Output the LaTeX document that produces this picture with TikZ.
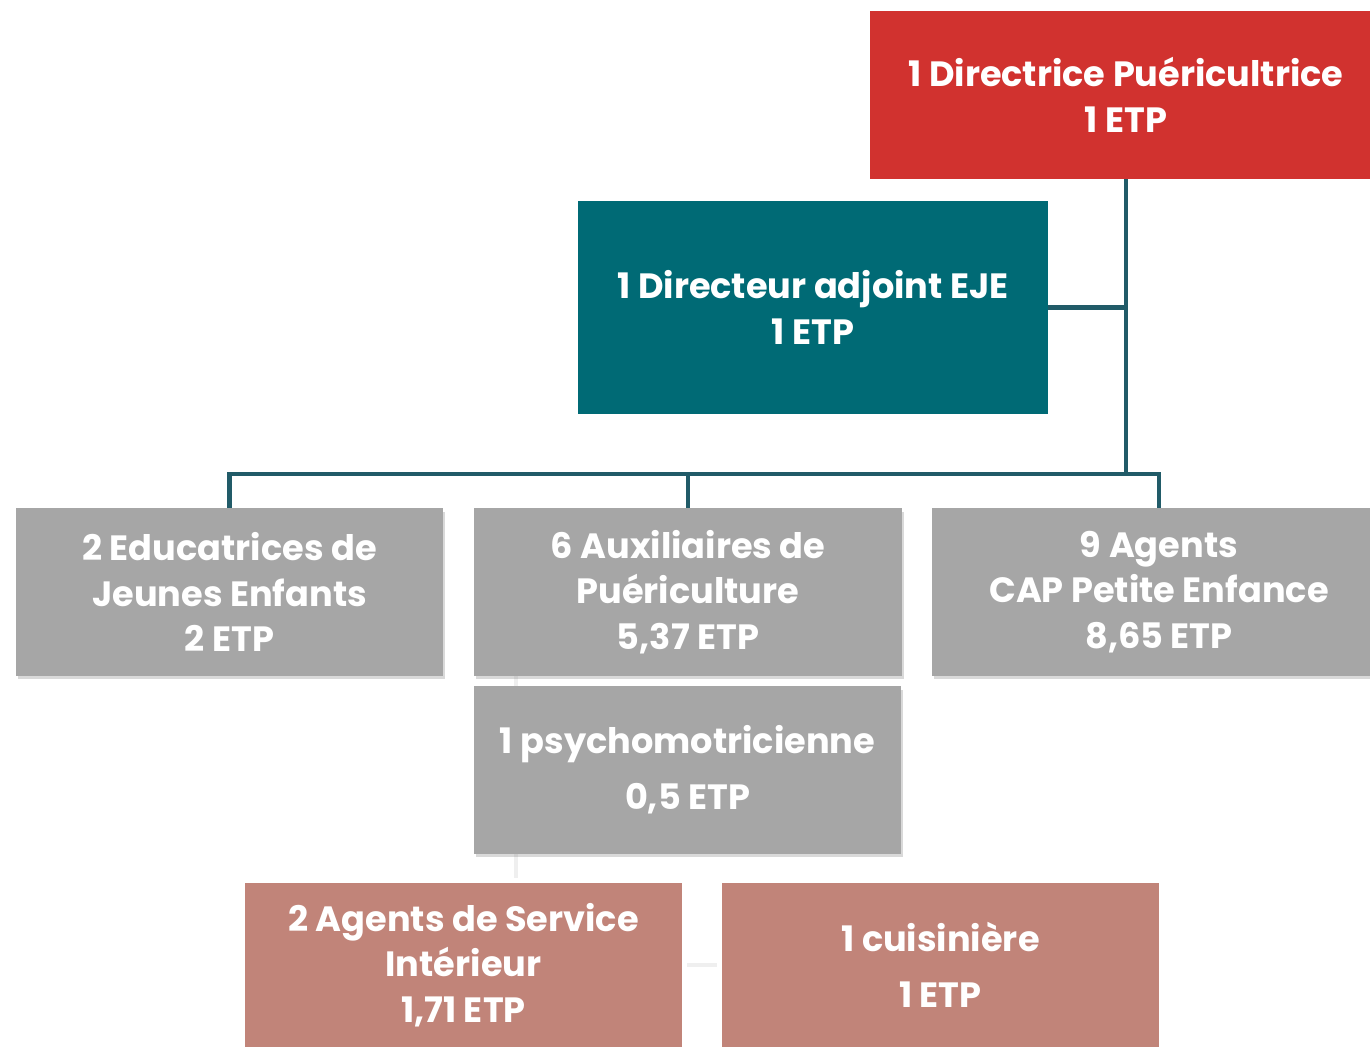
\documentclass[tikz,border=0pt]{standalone}
\usepackage{fontspec}
\setmainfont{Poppins}
\usepackage{tikz}
\usetikzlibrary{shadows}

\definecolor{dirred}{HTML}{D1322F}
\definecolor{adjteal}{HTML}{006A75}
\definecolor{linkteal}{HTML}{215B68}
\definecolor{staffgrey}{HTML}{A6A6A6}
\definecolor{servrose}{HTML}{C18479}
\definecolor{ghostgrey}{HTML}{EFEFEF}

\begin{document}
\begin{tikzpicture}[x=0.02cm,y=-0.02cm,
    box/.style={rectangle,inner sep=0pt,align=center,text=white,
        font=\fontsize{20}{26}\selectfont\bfseries},
    redbox/.style={box,fill=dirred},
    tealbox/.style={box,fill=adjteal},
    greybox/.style={box,fill=staffgrey,
        drop shadow={opacity=0.3,shadow xshift=1pt,shadow yshift=-2pt}},
    rosebox/.style={box,fill=servrose},
    link/.style={draw=linkteal,line width=2.3pt},
    ghost/.style={draw=ghostgrey,line width=2.8pt}]

    \clip (0,0) rectangle (1370,1047);

    % Faint connectors behind the boxes
    \coordinate (gtop) at (516,676);
    \coordinate (gbot) at (516,878);
    \draw[ghost] (gtop) -- (gbot);

    % Direction
    \node (dir) [redbox,minimum width=10.24cm,minimum height=3.36cm]
        at (1126,95) {1 Directrice Puéricultrice\\1 ETP};
    \node (adj) [tealbox,minimum width=9.4cm,minimum height=4.26cm]
        at (813,307.5) {1 Directeur adjoint EJE\\1 ETP};

    % Staff
    \node (eje) [greybox,minimum width=8.54cm,minimum height=3.36cm]
        at (229.5,592) {2 Educatrices de\\Jeunes Enfants\\2 ETP};
    \node (aux) [greybox,minimum width=8.56cm,minimum height=3.36cm]
        at (688,592) {6 Auxiliaires de\\Puériculture\\5,37 ETP};
    \node (cap) [greybox,minimum width=9.08cm,minimum height=3.36cm]
        at (1159,592) {9 Agents\\CAP Petite Enfance\\8,65 ETP};
    \node (psy) [greybox,minimum width=8.54cm,minimum height=3.36cm]
        at (687.5,770) {1 psychomotricienne\\[6pt]0,5 ETP};

    % Service
    \node (asi) [rosebox,minimum width=8.74cm,minimum height=3.28cm]
        at (463.5,965) {2 Agents de Service\\Intérieur\\1,71 ETP};
    \node (cui) [rosebox,minimum width=8.74cm,minimum height=3.28cm]
        at (940.5,965) {1 cuisinière\\[6pt]1 ETP};
    \draw[ghost,shorten <=0.1cm,shorten >=0.1cm]
        (asi.east) -- (cui.west);

    % Links
    \coordinate (bus) at (1126,474);
    \draw[link] (dir.south) -- (bus);
    \draw[link] (adj.east) -- (adj.east -| bus);
    \draw[link] (eje.north) |- (bus);
    \draw[link] (cap.north) |- (bus);
    \draw[link] (aux.north) -- (aux.north |- bus);
\end{tikzpicture}
\end{document}
